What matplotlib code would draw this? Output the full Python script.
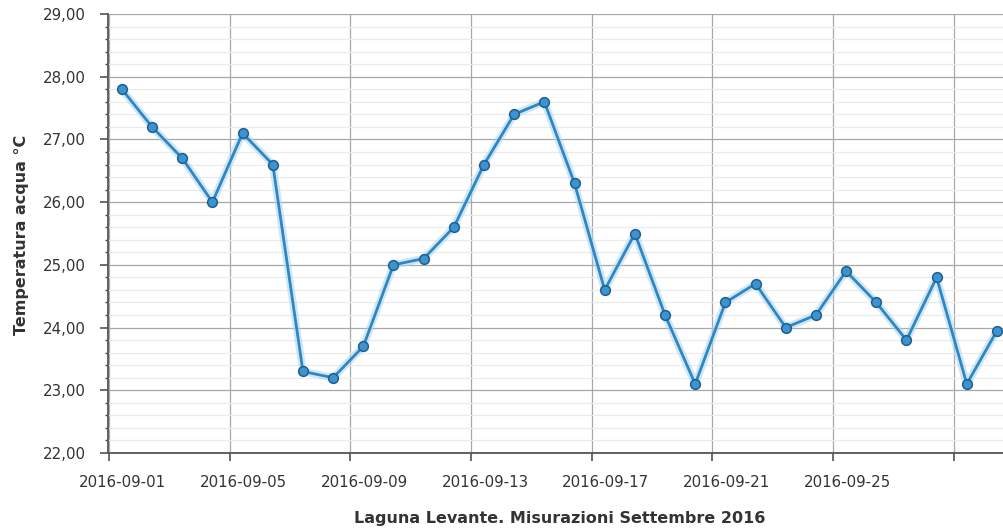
import matplotlib
matplotlib.use("Agg")
import matplotlib.pyplot as plt
import matplotlib.dates as mdates
from matplotlib.ticker import FixedLocator, MultipleLocator, FuncFormatter
from matplotlib.transforms import ScaledTranslation
import datetime as dt

dates = [dt.datetime(2016, 9, d, 10, 20) for d in range(1, 31)]
temps = [27.8, 27.2, 26.7, 26.0, 27.1, 26.6, 23.3, 23.2, 23.7, 25.0,
         25.1, 25.6, 26.6, 27.4, 27.6, 26.3, 24.6, 25.5, 24.2, 23.1,
         24.4, 24.7, 24.0, 24.2, 24.9, 24.4, 23.8, 24.8, 23.1, 23.95]
tick_dates = [dt.datetime(2016, 9, d) for d in (1, 5, 9, 13, 17, 21, 25, 29)]
tick_labels = ["2016-09-01", "2016-09-05", "2016-09-09", "2016-09-13",
               "2016-09-17", "2016-09-21", "2016-09-25", ""]
y_label = "Temperatura acqua °C"
x_title = "Laguna Levante. Misurazioni Settembre 2016"

plt.rcParams['font.family'] = ['DejaVu Sans']
fig = plt.figure(figsize=(10.04, 5.28), dpi=100)
ax = fig.add_axes([108/1004, 1-453/528, 1-108/1004 + 0.002, (453-14)/528])

x0 = mdates.date2num(dt.datetime(2016, 9, 1)) - 0.03
ax.set_xlim(x0, x0 + 29.76)
ax.set_ylim(22, 29)

# halo
ax.plot(dates, temps, color='#a9d6f3', lw=5.5, alpha=0.55, solid_capstyle='round', zorder=2)
ax.plot(dates, temps, color='#2f86c0', lw=2.0, zorder=3,
        marker='o', markersize=7, markerfacecolor='#3b93cf',
        markeredgecolor='#1f5f8f', markeredgewidth=1.1, clip_on=True)

ax.xaxis.set_major_locator(FixedLocator(mdates.date2num(tick_dates)))
ax.set_xticklabels(tick_labels)
ax.yaxis.set_major_locator(MultipleLocator(1))
ax.yaxis.set_minor_locator(MultipleLocator(0.2))
ax.yaxis.set_major_formatter(FuncFormatter(lambda v, p: f"{v:.2f}".replace('.', ',')))

ax.grid(which='major', color='#a8a8a8', lw=0.9)
ax.grid(which='minor', axis='y', color='#ebebeb', lw=0.9)
ax.set_axisbelow(True)

for s in ('top', 'right'):
    ax.spines[s].set_visible(False)
for s in ('left', 'bottom'):
    ax.spines[s].set_color('#555555')
    ax.spines[s].set_linewidth(1.3)

ax.tick_params(axis='both', which='major', length=5.8, width=1.1, color='#444444',
               labelsize=10.8, labelcolor='#333333')
ax.tick_params(axis='y', which='minor', length=2.5, width=1.0, color='#444444')
ax.tick_params(axis='x', pad=10)
ax.tick_params(axis='y', pad=10)

offset = ScaledTranslation(14/100, 0, fig.dpi_scale_trans)
for lbl in ax.get_xticklabels():
    lbl.set_transform(lbl.get_transform() + offset)

ax.set_ylabel(y_label, fontsize=11.5, fontweight='bold', color='#333333')
ax.yaxis.set_label_coords(22/1004, 1-235/528, transform=fig.transFigure)
ax.set_xlabel(x_title, fontsize=11.5, fontweight='bold', color='#333333')
ax.xaxis.set_label_coords(560/1004, 1-519/528, transform=fig.transFigure)
ax.xaxis.label.set_va('center')
ax.yaxis.label.set_va('center')

fig.savefig("out.png", dpi=100)
